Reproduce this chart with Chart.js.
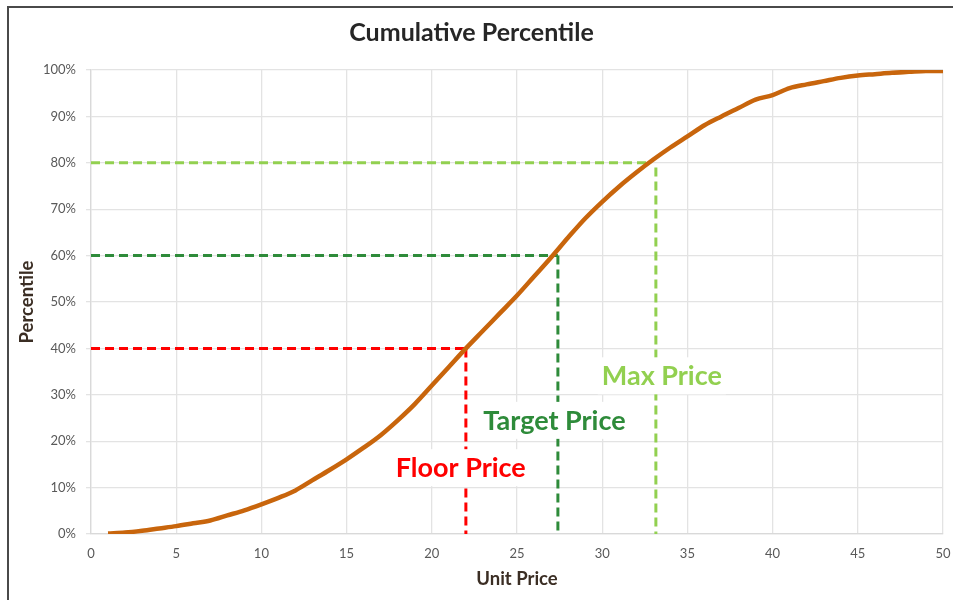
<!DOCTYPE html>
<html>
<head>
<meta charset="utf-8">
<title>Cumulative Percentile</title>
<script src="https://cdn.jsdelivr.net/npm/chart.js@4.4.1/dist/chart.umd.min.js"></script>
<style>
  html, body { margin: 0; padding: 0; background: #ffffff; }
  #wrap { position: relative; width: 953px; height: 600px; overflow: hidden; }
  #frame {
    position: absolute; left: 7px; top: 6px; width: 1000px; height: 700px;
    border-left: 2px solid #4a4a4a; border-top: 2px solid #4a4a4a;
    pointer-events: none;
  }
  canvas { position: absolute; left: 0; top: 0; }
</style>
</head>
<body>
<div id="wrap">
  <canvas id="chart" width="953" height="600"></canvas>
  <div id="frame"></div>
</div>
<script>
// Unit price (x) and cumulative percentile (%, y)
const unitPrice = [1, 2, 3, 4, 5, 6, 7, 8, 9, 10,
  11, 12, 13, 14, 15, 16, 17, 18, 19, 20,
  21, 22, 23, 24, 25, 26, 27, 28, 29, 30,
  31, 32, 33, 34, 35, 36, 37, 38, 39, 40,
  41, 42, 43, 44, 45, 46, 47, 48, 49, 50];
const percentile = [0.1, 0.3, 0.7, 1.2, 1.7, 2.3, 2.9, 4.0, 5.1, 6.4,
  7.8, 9.4, 11.6, 13.8, 16.1, 18.6, 21.3, 24.5, 28.0, 32.0,
  36.0, 40.0, 43.8, 47.6, 51.4, 55.5, 59.6, 63.9, 68.0, 71.6,
  74.9, 77.9, 80.7, 83.3, 85.7, 88.1, 90.0, 91.8, 93.6, 94.6,
  96.1, 96.9, 97.6, 98.3, 98.8, 99.1, 99.4, 99.6, 99.8, 99.8];

// Price thresholds: percentile level, where the level meets the curve, where the drop line sits
const thresholdNames = ['Floor Price', 'Target Price', 'Max Price'];
const thresholdLevels = [40, 60, 80];
const thresholdCurveX = [22, 27.4, 32.7];
const thresholdDropX = [22, 27.4, 33.15];
const thresholdColors = ['#ff0000', '#2e8b3a', '#92d050'];

// Axis ticks
const xTicks = [0, 5, 10, 15, 20, 25, 30, 35, 40, 45, 50];
const yTicks = [0, 10, 20, 30, 40, 50, 60, 70, 80, 90, 100];

// Where each threshold caption sits (data units)
const captionAnchors = [
  { x: 21.7, y: 14.4 },
  { x: 27.2, y: 24.6 },
  { x: 33.5, y: 34.2 }
];

const FONT = 'Lato, "Open Sans", "DejaVu Sans", sans-serif';

const curveData = unitPrice.map((x, i) => ({ x: x, y: percentile[i] }));

const thresholdSets = thresholdLevels.map((lvl, i) => ({
  label: thresholdNames[i],
  data: [
    { x: 0, y: lvl },
    { x: thresholdCurveX[i], y: lvl },
    { x: null, y: null },
    { x: thresholdDropX[i], y: lvl - (thresholdDropX[i] !== thresholdCurveX[i] ? 1 : 0) },
    { x: thresholdDropX[i], y: 0 }
  ],
  borderColor: thresholdColors[i],
  borderWidth: 3,
  borderDash: [9, 5],
  pointRadius: 0,
  fill: false,
  spanGaps: false,
  tension: 0,
  order: 2 + i
}));

// Captions with a white box behind them, drawn over grid and drop lines
const captionPlugin = {
  id: 'thresholdCaptions',
  afterDatasetsDraw(chart) {
    const { ctx, scales } = chart;
    ctx.save();
    ctx.font = 'bold 27px ' + FONT;
    ctx.textAlign = 'center';
    ctx.textBaseline = 'middle';
    captionAnchors.forEach((a, i) => {
      const px = scales.x.getPixelForValue(a.x);
      const py = scales.y.getPixelForValue(a.y);
      const w = ctx.measureText(thresholdNames[i]).width;
      ctx.fillStyle = '#ffffff';
      ctx.fillRect(px - w / 2 - 4, py - 18, w + 8, 37);
      ctx.fillStyle = thresholdColors[i];
      ctx.fillText(thresholdNames[i], px, py + 1);
    });
    ctx.restore();
  }
};

new Chart(document.getElementById('chart'), {
  type: 'line',
  data: {
    datasets: [
      {
        label: 'Cumulative Percentile',
        data: curveData,
        borderColor: '#c8650c',
        borderWidth: 4.5,
        pointRadius: 0,
        fill: false,
        cubicInterpolationMode: 'monotone',
        order: 1
      },
      ...thresholdSets
    ]
  },
  options: {
    responsive: false,
    animation: false,
    devicePixelRatio: 1,
    layout: { padding: { left: 0, right: 10, top: 0, bottom: 0 } },
    plugins: {
      legend: { display: false },
      tooltip: { enabled: false },
      title: {
        display: true,
        text: 'Cumulative Percentile',
        color: '#262626',
        font: { family: FONT, size: 25, weight: 'bold' },
        padding: { top: 18, bottom: 22 }
      }
    },
    scales: {
      x: {
        type: 'linear',
        min: 0,
        max: 50,
        afterBuildTicks(scale) { scale.ticks = xTicks.map(v => ({ value: v })); },
        afterFit(scale) { scale.height = 66; },
        grid: { color: '#e3e3e3', lineWidth: 1.3, drawTicks: true, tickLength: 10, tickColor: 'rgba(0,0,0,0)' },
        border: { color: '#d9d9d9', width: 1.3 },
        ticks: {
          color: '#595959',
          font: { family: FONT, size: 13 },
          padding: 2,
          maxRotation: 0
        },
        title: {
          display: true,
          text: 'Unit Price',
          color: '#3b2e24',
          font: { family: FONT, size: 18.5, weight: 'bold' },
          padding: { top: 0, bottom: 10 }
        }
      },
      y: {
        type: 'linear',
        min: 0,
        max: 100,
        afterBuildTicks(scale) { scale.ticks = yTicks.map(v => ({ value: v })); },
        afterFit(scale) { scale.width = 91; },
        grid: { color: '#e3e3e3', lineWidth: 1.3, tickLength: 5 },
        border: { color: '#d9d9d9', width: 1.3 },
        ticks: {
          color: '#595959',
          font: { family: FONT, size: 13 },
          padding: 10,
          callback: v => v + '%'
        },
        title: {
          display: true,
          text: 'Percentile',
          color: '#3b2e24',
          font: { family: FONT, size: 18.5, weight: 'bold' },
          padding: { top: 16, bottom: 0 }
        }
      }
    }
  },
  plugins: [captionPlugin]
});
</script>
</body>
</html>
